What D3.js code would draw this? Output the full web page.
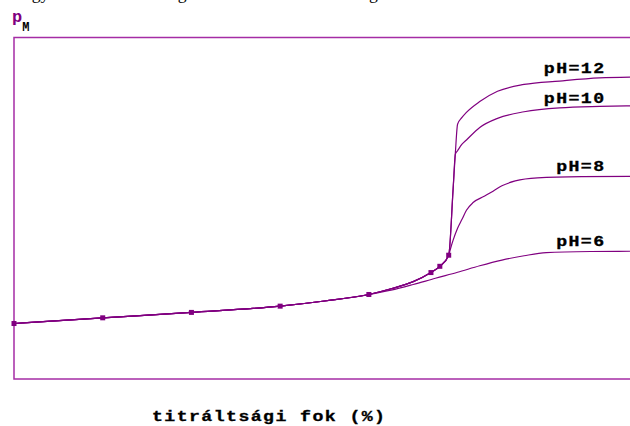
<!DOCTYPE html>
<html>
<head>
<meta charset="utf-8">
<script src="https://cdn.jsdelivr.net/npm/d3@7"></script>
<style>
  body { margin: 0; background: #fff; }
  svg { display: block; }
</style>
</head>
<body>
<svg id="chart" width="630" height="426"></svg>
<script>
// Titration curves of a divalent metal ion with EDTA at several pH values.
// x: degree of titration (%), y: pM

// part shared by all four curves
const commonDegree = [0, 20, 40, 60, 70, 80];
const commonPM     = [1.95, 2.15, 2.34, 2.56, 2.74, 2.97];

// part shared by pH = 8, 10, 12 just before the equivalence point
const nearEqDegree = [85, 90, 94, 96, 98];
const nearEqPM     = [3.17, 3.42, 3.74, 3.96, 4.35];

// individual branches
const ph12Degree = [99, 99.5, 100, 101, 102, 105, 109, 115, 123, 132, 140];
const ph12PM     = [6.69, 7.94, 8.95, 9.19, 9.37, 9.75, 10.11, 10.35, 10.47, 10.58, 10.61];

const ph10Degree = [99, 99.5, 100, 101, 102, 105, 109, 115, 123, 132, 140];
const ph10PM     = [6.69, 7.90, 8.02, 8.25, 8.40, 8.84, 9.16, 9.39, 9.53, 9.58, 9.60];

const ph8Degree = [98.5, 99, 100, 101, 102, 103.5, 106, 108, 110, 113, 118, 128, 140];
const ph8PM     = [4.63, 4.88, 5.30, 5.61, 5.93, 6.20, 6.42, 6.60, 6.79, 6.96, 7.07, 7.11, 7.12];

const ph6Degree = [85, 90, 95, 100, 105, 110, 115, 120, 130, 140];
const ph6PM     = [3.12, 3.32, 3.54, 3.75, 3.98, 4.18, 4.33, 4.44, 4.48, 4.49];

// measured points marked on the curve
const markerDegree = [0, 20, 40, 60, 80, 94, 96, 98];
const markerPM     = [1.95, 2.15, 2.34, 2.56, 2.97, 3.74, 3.96, 4.35];

const seriesLabels = ["pH=12", "pH=10", "pH=8", "pH=6"];
const xTitle = "titráltsági fok (%)";
const yTitleMain = "p";
const yTitleSub = "M";
const headline = "Egy kétértékű fémion görbéi az EDTA oldat térfogatának növelésekor";

const zip = (xs, ys) => xs.map((x, i) => ({ x, y: ys[i] }));
const common = zip(commonDegree, commonPM);
const nearEq = zip(nearEqDegree, nearEqPM);

const series = [
  { label: seriesLabels[0], pts: common.concat(nearEq, zip(ph12Degree, ph12PM)) },
  { label: seriesLabels[1], pts: common.concat(nearEq, zip(ph10Degree, ph10PM)) },
  { label: seriesLabels[2], pts: common.concat(nearEq, zip(ph8Degree, ph8PM)) },
  { label: seriesLabels[3], pts: common.concat(zip(ph6Degree, ph6PM)) }
];

const svg = d3.select("#chart");
const lineColor = "#800080";
const frameColor = "#a52ca5";
const monoFont = "'Liberation Mono', 'Courier New', monospace";

const x = d3.scaleLinear().domain([0, 140]).range([14, 635]);
const y = d3.scaleLinear().domain([0, 12]).range([379, 37.5]);

// running text above the figure (only its descenders fall inside the page)
svg.append("text")
  .attr("x", 21).attr("y", -0.6)
  .attr("font-family", "'Liberation Serif', 'Times New Roman', serif")
  .attr("font-size", 17.6)
  .attr("fill", "#000")
  .text(headline);

// plot frame (open to the right)
svg.append("rect")
  .attr("x", 14).attr("y", 37.5)
  .attr("width", 640).attr("height", 341.5)
  .attr("fill", "none")
  .attr("stroke", frameColor)
  .attr("stroke-width", 1.5);

// y-axis title pM
const yt = svg.append("text")
  .attr("x", 12).attr("y", 22)
  .attr("font-family", monoFont)
  .attr("font-weight", "bold");
yt.append("tspan").attr("font-size", 17).attr("fill", lineColor).text(yTitleMain);
yt.append("tspan").attr("font-size", 12).attr("dy", 9).attr("dx", 0).attr("fill", "#000").text(yTitleSub);

// curves
const line = d3.line()
  .x(d => x(d.x))
  .y(d => y(d.y))
  .curve(d3.curveMonotoneX);

svg.append("g")
  .selectAll("path")
  .data(series)
  .join("path")
  .attr("d", d => line(d.pts))
  .attr("fill", "none")
  .attr("stroke", lineColor)
  .attr("stroke-width", 1.2);

// square markers
svg.append("g")
  .selectAll("rect")
  .data(zip(markerDegree, markerPM))
  .join("rect")
  .attr("x", d => x(d.x) - 2.5)
  .attr("y", d => y(d.y) - 2.5)
  .attr("width", 5).attr("height", 5)
  .attr("fill", lineColor);

// wide bold typewriter lettering
function wideText(sel) {
  return sel
    .attr("font-family", monoFont)
    .attr("font-weight", "bold")
    .attr("font-size", 14)
    .attr("letter-spacing", 1.1)
    .attr("fill", "#000")
    .attr("stroke", "#000")
    .attr("stroke-width", 0.3);
}

// curve labels, set just above the plateau of each curve
const labelLift = [4.3, 3, 5.3, 5.2];
const labelRight = 605.5;
wideText(svg.append("g")
  .selectAll("text")
  .data(series)
  .join("text"))
  .attr("text-anchor", "end")
  .attr("transform", (d, i) => {
    const last = d.pts[d.pts.length - 1];
    return `translate(${labelRight},${y(last.y) - labelLift[i]}) scale(1.3,1)`;
  })
  .text(d => d.label);

// x-axis title
wideText(svg.append("text"))
  .attr("transform", "translate(152,421) scale(1.3,1)")
  .text(xTitle);
</script>
</body>
</html>
